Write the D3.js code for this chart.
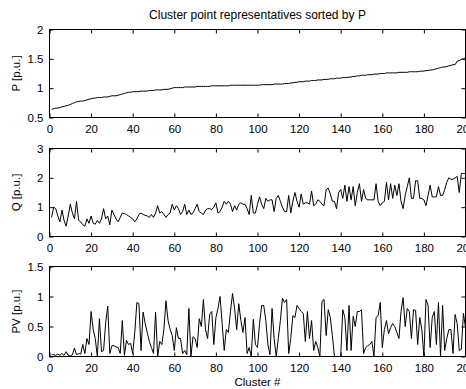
<!DOCTYPE html>
<html>
<head>
<meta charset="utf-8">
<script src="https://cdn.jsdelivr.net/npm/d3@7"></script>
<style>
  body { margin: 0; background: #fff; }
  svg { display: block; }
  text { font-family: "Liberation Sans", Arial, sans-serif; fill: #000; }
  .axis text { font-size: 11.5px; }
  .axis line { stroke: #000; }
</style>
</head>
<body>
<svg id="chart"></svg>
<script>
// cluster representatives, cluster 1..200
const pValues = [
  0.64,0.65,0.66,0.66,0.67,0.68,0.69,0.70,0.71,0.72,
  0.74,0.75,0.77,0.77,0.78,0.78,0.79,0.80,0.81,0.82,
  0.83,0.83,0.84,0.84,0.84,0.85,0.85,0.85,0.86,0.87,
  0.87,0.87,0.88,0.89,0.90,0.91,0.92,0.93,0.93,0.94,
  0.94,0.94,0.94,0.95,0.95,0.95,0.95,0.96,0.96,0.96,
  0.97,0.97,0.97,0.97,0.98,0.98,0.98,0.99,1.00,1.01,
  1.01,1.01,1.01,1.01,1.02,1.02,1.02,1.02,1.02,1.02,
  1.03,1.03,1.03,1.03,1.03,1.03,1.03,1.04,1.04,1.04,
  1.04,1.04,1.04,1.04,1.04,1.04,1.05,1.05,1.05,1.05,
  1.05,1.05,1.05,1.05,1.05,1.05,1.05,1.05,1.05,1.05,
  1.05,1.06,1.06,1.06,1.06,1.06,1.06,1.07,1.07,1.07,
  1.07,1.07,1.08,1.08,1.08,1.09,1.09,1.10,1.10,1.11,
  1.11,1.11,1.12,1.12,1.12,1.13,1.13,1.13,1.14,1.14,
  1.14,1.15,1.15,1.15,1.16,1.16,1.16,1.17,1.17,1.17,
  1.18,1.18,1.18,1.19,1.19,1.20,1.20,1.21,1.21,1.22,
  1.22,1.22,1.23,1.23,1.23,1.24,1.24,1.24,1.25,1.25,
  1.25,1.26,1.26,1.26,1.26,1.26,1.26,1.27,1.27,1.27,
  1.27,1.27,1.28,1.28,1.28,1.28,1.28,1.29,1.29,1.29,
  1.30,1.30,1.31,1.31,1.32,1.33,1.34,1.35,1.36,1.36,
  1.37,1.38,1.39,1.40,1.40,1.46,1.47,1.49,1.50,1.52
];

const qValues = [
  0.65,1.00,0.95,0.70,0.50,0.90,0.55,0.35,0.70,1.10,
  0.80,0.60,1.20,0.55,0.50,0.40,0.35,0.60,0.45,0.70,
  0.45,0.42,0.55,0.45,0.60,0.95,0.60,0.70,0.40,0.90,
  0.75,0.60,0.50,0.65,0.80,0.78,0.75,0.70,0.65,0.60,
  0.50,0.60,0.75,0.80,0.75,0.72,0.70,0.65,0.75,0.65,
  0.80,1.05,0.80,0.85,0.75,0.65,0.75,0.80,1.10,0.90,
  1.05,0.95,0.75,0.85,1.10,0.75,0.90,0.75,0.80,0.95,
  1.10,0.85,0.80,0.75,0.90,0.95,0.95,0.92,1.00,1.15,
  0.80,0.85,1.00,1.20,1.10,1.20,1.10,0.85,1.05,0.90,
  1.10,1.15,1.10,1.10,0.95,0.75,1.40,0.80,0.80,1.10,
  1.35,1.10,0.95,1.30,1.20,1.25,1.25,0.85,1.30,1.40,
  1.20,1.00,0.85,0.85,1.40,0.80,1.20,1.50,1.20,1.00,
  1.45,1.10,1.15,1.15,1.10,1.55,1.05,1.10,1.25,1.20,
  1.10,1.05,1.60,1.65,1.45,1.20,1.20,0.95,1.50,1.60,
  1.30,1.75,1.20,1.70,1.25,1.70,1.05,1.50,1.80,1.20,
  1.60,1.30,1.25,1.25,1.25,1.25,1.80,1.20,1.05,1.15,
  1.20,1.85,1.25,1.80,1.30,1.75,1.40,1.80,1.20,0.95,
  1.40,1.70,2.00,1.30,1.30,1.90,1.90,1.30,1.30,1.25,
  1.05,1.40,1.75,1.35,1.35,1.35,1.70,1.40,1.40,1.60,
  1.85,2.00,1.95,1.95,2.00,2.05,1.50,2.15,2.15,2.15
];

const pvValues = [
  0.03,0.03,0.02,0.04,0.02,0.05,0.02,0.08,0.02,0.01,
  0.03,0.14,0.03,0.05,0.04,0.20,0.05,0.30,0.20,0.75,
  0.45,0.30,0.00,0.63,0.08,0.10,0.56,0.84,0.05,0.18,
  0.18,0.16,0.15,0.05,0.60,0.02,0.27,0.20,0.22,0.05,
  0.40,0.90,0.88,0.10,0.74,0.55,0.40,0.25,0.15,0.05,
  0.74,0.00,0.25,0.20,0.45,0.93,0.60,0.45,0.35,0.10,
  0.48,0.30,0.30,0.05,0.10,0.03,0.80,0.00,0.33,0.30,
  0.15,0.63,0.50,0.95,0.45,0.30,0.70,0.75,0.20,0.65,
  0.80,1.00,0.55,0.10,0.45,0.40,0.75,1.05,0.80,0.45,
  0.88,0.60,0.40,0.65,0.05,0.15,0.00,0.62,0.20,0.15,
  0.55,0.85,0.85,0.60,0.20,0.03,0.80,0.30,0.00,0.30,
  0.60,0.97,0.90,0.95,0.05,0.30,0.68,0.65,0.85,0.80,
  0.75,0.72,0.25,0.75,0.30,0.60,0.10,0.25,0.15,0.00,
  0.92,0.95,0.35,0.78,0.65,0.35,0.00,0.00,0.00,0.00,
  0.78,0.65,0.10,0.85,0.10,0.67,0.50,0.75,0.75,0.78,
  0.05,0.15,0.18,0.20,0.25,0.00,0.65,0.68,0.90,0.15,
  0.45,0.60,0.38,0.48,0.55,0.50,0.40,0.30,0.75,0.98,
  0.50,0.80,0.75,0.30,0.78,0.77,0.20,0.65,0.45,0.00,
  0.95,0.85,0.15,0.65,0.75,0.20,0.90,0.00,0.85,0.10,
  0.30,0.45,0.45,0.05,0.70,0.55,0.10,0.12,0.72,0.48
];

const xTicks = [0, 20, 40, 60, 80, 100, 120, 140, 160, 180, 200];
const pTicks = [0.5, 1, 1.5, 2];
const qTicks = [0, 1, 2, 3];
const pvTicks = [0, 0.5, 1, 1.5];

const titleText = 'Cluster point representatives sorted by P';
const xLabel = 'Cluster #';

const width = 466;
const height = 389;
const left = 49.5;
const right = 465.5;

const panels = [
  { values: pValues, ticks: pTicks, label: 'P [p.u.]', top: 29.5, bottom: 117.5 },
  { values: qValues, ticks: qTicks, label: 'Q [p.u.]', top: 148.5, bottom: 236.5 },
  { values: pvValues, ticks: pvTicks, label: 'PV [p.u.]', top: 266.5, bottom: 356.5 },
];

const svg = d3.select('#chart')
  .attr('width', width)
  .attr('height', height);

const x = d3.scaleLinear()
  .domain([0, 200])
  .range([left, right]);

const fmt = d3.format('~g');
const tick = 4;

panels.forEach(p => {
  const y = d3.scaleLinear()
    .domain(d3.extent(p.ticks))
    .range([p.bottom, p.top]);

  const g = svg.append('g');

  // bottom axis with labels, ticks point inward
  g.append('g')
    .attr('class', 'axis')
    .attr('transform', `translate(0, ${p.bottom})`)
    .call(d3.axisBottom(x).tickValues(xTicks).tickSizeInner(-tick).tickSizeOuter(0).tickPadding(7))
    .call(a => a.select('.domain').remove());

  // top ticks
  g.append('g')
    .attr('class', 'axis')
    .attr('transform', `translate(0, ${p.top})`)
    .call(d3.axisTop(x).tickValues(xTicks).tickSizeInner(-tick).tickSizeOuter(0).tickFormat(''))
    .call(a => a.select('.domain').remove());

  // left axis with labels
  g.append('g')
    .attr('class', 'axis')
    .attr('transform', `translate(${left}, 0)`)
    .call(d3.axisLeft(y).tickValues(p.ticks).tickSizeInner(-tick).tickSizeOuter(0).tickPadding(6).tickFormat(fmt))
    .call(a => a.select('.domain').remove());

  // right ticks
  g.append('g')
    .attr('class', 'axis')
    .attr('transform', `translate(${right}, 0)`)
    .call(d3.axisRight(y).tickValues(p.ticks).tickSizeInner(-tick).tickSizeOuter(0).tickFormat(''))
    .call(a => a.select('.domain').remove());

  // series
  const line = d3.line()
    .x((d, i) => x(i + 1))
    .y(d => y(d));

  g.append('path')
    .datum(p.values)
    .attr('fill', 'none')
    .attr('stroke', '#000')
    .attr('stroke-width', 1)
    .attr('stroke-linejoin', 'round')
    .attr('d', line);

  // box
  g.append('rect')
    .attr('x', left)
    .attr('y', p.top)
    .attr('width', right - left)
    .attr('height', p.bottom - p.top)
    .attr('fill', 'none')
    .attr('stroke', '#000')
    .attr('stroke-width', 1);

  // y label
  svg.append('text')
    .attr('transform', `translate(20, ${(p.top + p.bottom) / 2}) rotate(-90)`)
    .attr('text-anchor', 'middle')
    .attr('font-size', 11.5)
    .text(p.label);
});

svg.append('text')
  .attr('x', (left + right) / 2)
  .attr('y', 19)
  .attr('text-anchor', 'middle')
  .attr('font-size', 12)
  .text(titleText);

svg.append('text')
  .attr('x', (left + right) / 2)
  .attr('y', 385.5)
  .attr('text-anchor', 'middle')
  .attr('font-size', 11.5)
  .text(xLabel);
</script>
</body>
</html>
